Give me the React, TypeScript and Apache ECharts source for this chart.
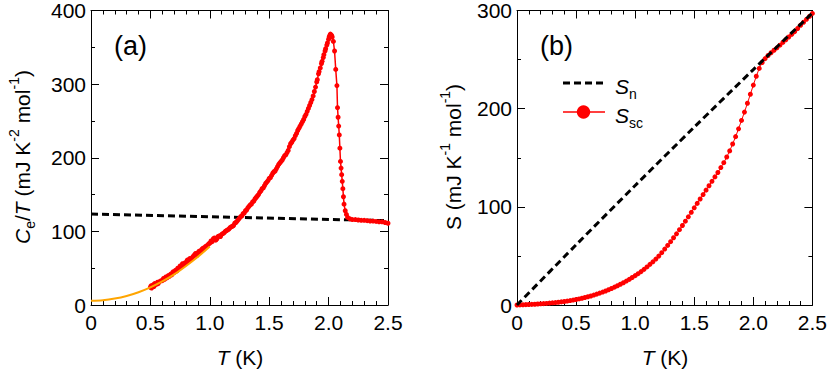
import React, { useEffect, useRef } from "react";
import * as echarts from "echarts";

// ---- Panel (a): Ce/T vs T ----
const T_A = [
  0.5, 0.505, 0.51, 0.52, 0.53, 0.535, 0.55, 0.56, 0.565, 0.58, 0.59, 0.6, 0.61, 0.62, 0.63, 0.64, 0.65, 0.66,
  0.67, 0.68, 0.69, 0.7, 0.71, 0.72, 0.73, 0.74, 0.75, 0.76, 0.77, 0.78, 0.79, 0.8, 0.81, 0.82, 0.83, 0.84,
  0.85, 0.86, 0.87, 0.88, 0.89, 0.9, 0.91, 0.92, 0.93, 0.94, 0.95, 0.96, 0.97, 0.98, 0.99, 1.0, 1.01, 1.02,
  1.03, 1.04, 1.05, 1.06, 1.07, 1.08, 1.09, 1.1, 1.11, 1.12, 1.13, 1.14, 1.15, 1.16, 1.17, 1.18, 1.19, 1.2,
  1.21, 1.22, 1.23, 1.24, 1.25, 1.26, 1.27, 1.28, 1.29, 1.3, 1.31, 1.32, 1.33, 1.34, 1.35, 1.36, 1.37, 1.38,
  1.39, 1.4, 1.41, 1.42, 1.43, 1.44, 1.45, 1.46, 1.47, 1.48, 1.49, 1.5, 1.51, 1.52, 1.53, 1.54, 1.55, 1.56,
  1.57, 1.58, 1.59, 1.6, 1.61, 1.62, 1.63, 1.64, 1.65, 1.66, 1.67, 1.68, 1.69, 1.7, 1.71, 1.72, 1.73, 1.74,
  1.75, 1.76, 1.77, 1.78, 1.79, 1.8, 1.81, 1.82, 1.83, 1.84, 1.85, 1.86, 1.87, 1.88, 1.89, 1.9, 1.905, 1.915,
  1.92, 1.93, 1.94, 1.945, 1.955, 1.96, 1.97, 1.975, 1.985, 1.99, 2.0, 2.005, 2.01, 2.015, 2.02, 2.025, 2.03,
  2.04, 2.05, 2.06, 2.07, 2.075, 2.08, 2.085, 2.09, 2.095, 2.1, 2.105, 2.11, 2.115, 2.12, 2.125, 2.13, 2.14,
  2.15, 2.16, 2.18, 2.2, 2.225, 2.25, 2.275, 2.3, 2.325, 2.35, 2.375, 2.4, 2.425, 2.45, 2.475, 2.5,
];
const CE_A = [
  24, 26, 23, 27, 25, 29, 28, 31, 29, 32, 33, 33, 36, 35, 38, 37, 40, 39,
  42, 41, 45, 44, 47, 46, 50, 49, 53, 52, 56, 55, 57, 58, 61, 59, 63, 62,
  64, 66, 68, 70, 67, 71, 73, 72, 75, 77, 76, 79, 80, 81, 83, 84, 87, 86,
  90, 91, 88, 90, 93, 94, 93, 96, 97, 98, 100, 101, 102, 103, 105, 106, 107, 108,
  111, 112, 114, 116, 118, 120, 121, 124, 125, 128, 129, 132, 134, 136, 137, 140, 141, 144,
  146, 148, 150, 153, 155, 158, 159, 162, 165, 167, 169, 172, 173, 176, 179, 181, 182, 185,
  188, 191, 193, 195, 197, 200, 203, 204, 207, 210, 215, 219, 221, 224, 226, 230, 233, 237,
  240, 243, 246, 249, 252, 256, 259, 263, 267, 271, 275, 279, 284, 290, 296, 303, 306, 314,
  317, 322, 328, 331, 336, 340, 345, 348, 353, 356, 361, 364, 366, 368, 367, 366, 364,
  358, 345, 320, 298, 268, 255, 243, 231, 213, 195, 186, 177, 168, 158, 147, 137, 128,
  123, 119, 117, 116, 116, 115.5, 115, 115, 114.5, 114, 114, 113.5, 113, 113, 112, 111,
];
const T_FIT = [0, 0.1, 0.2, 0.3, 0.4, 0.5, 0.6, 0.7, 0.8, 0.9, 1.0];
const CE_FIT = [5.8, 6.5, 8.7, 12.3, 17.4, 24, 32, 41.6, 53, 65.5, 79.5];
const T_NA = [0, 2.5];
const CE_N = [123.5, 114.5];

// ---- Panel (b): S vs T ----
const T_SN = [0, 0.5, 1.0, 1.5, 2.0, 2.5];
const S_N = [0, 61.3, 121.7, 181.2, 239.8, 297.5];
const T_SC = [
  0, 0.025, 0.05, 0.075, 0.1, 0.125, 0.15, 0.175, 0.2, 0.225, 0.25, 0.275, 0.3, 0.325, 0.35, 0.375,
  0.4, 0.425, 0.45, 0.475, 0.5, 0.525, 0.55, 0.575, 0.6, 0.625, 0.65, 0.675, 0.7, 0.725, 0.75, 0.775,
  0.8, 0.825, 0.85, 0.875, 0.9, 0.925, 0.95, 0.975, 1.0, 1.025, 1.05, 1.075, 1.1, 1.125, 1.15, 1.175,
  1.2, 1.225, 1.25, 1.275, 1.3, 1.325, 1.35, 1.375, 1.4, 1.425, 1.45, 1.475, 1.5, 1.525, 1.55, 1.575,
  1.6, 1.625, 1.65, 1.675, 1.7, 1.725, 1.75, 1.775, 1.8, 1.825, 1.85, 1.875, 1.9, 1.925, 1.95, 1.975,
  2.0, 2.025, 2.05, 2.075, 2.1, 2.125, 2.15, 2.175, 2.2, 2.225, 2.25, 2.275, 2.3, 2.325, 2.35, 2.375,
  2.4, 2.425, 2.45, 2.475, 2.5,
];
const S_SC = [
  0, 0.12, 0.25, 0.38, 0.5, 0.65, 0.8, 1.0, 1.2, 1.4, 1.6, 1.9, 2.2, 2.5, 2.8, 3.2,
  3.6, 4.0, 4.5, 5.0, 5.6, 6.2, 6.9, 7.6, 8.4, 9.2, 10.1, 11.1, 12.1, 13.2, 14.3, 15.5,
  16.8, 18.2, 19.6, 21.1, 22.7, 24.4, 26.1, 28.0, 29.9, 31.9, 34.0, 36.3, 38.8, 41.4, 44.0, 46.8,
  49.8, 53.3, 57.0, 60.7, 64.5, 68.5, 72.5, 76.7, 81.0, 85.4, 89.8, 94.4, 99.0, 103.5, 108.0, 112.5,
  117.0, 121.5, 126.0, 130.5, 135.0, 140.0, 145.0, 150.8, 157.0, 164.0, 171.5, 179.5, 188.0, 196.5, 205.5, 214.7,
  224.0, 233.0, 241.0, 247.0, 251.0, 254.2, 257.0, 259.5, 262.0, 264.7, 267.5, 270.2, 273.0, 275.7, 278.5, 281.7,
  285.0, 288.0, 291.0, 294.0, 297.0,
];

const X_TICKS = { min: 0, max: 2.5, interval: 0.5 };
const Y_A_TICKS = { min: 0, max: 400, interval: 100 };
const Y_B_TICKS = { min: 0, max: 300, interval: 100 };

const FONT = '"Liberation Sans", Arial, Helvetica, sans-serif';
const RED = "#ff0000";
const ORANGE = "#ffa500";
const TICK = "#000000";

const zip = (xs: number[], ys: number[]) => xs.map((x, i) => [x, ys[i]]);

const rich = {
  n: { fontSize: 21, fontFamily: FONT, fill: "#000", lineHeight: 30 },
  i: { fontSize: 21, fontFamily: FONT, fill: "#000", fontStyle: "italic", lineHeight: 30 },
  sub: { fontSize: 14, fontFamily: FONT, fill: "#000", verticalAlign: "bottom", lineHeight: 12 },
  sup: { fontSize: 14, fontFamily: FONT, fill: "#000", verticalAlign: "top", lineHeight: 14 },
};

function xAxis(gridIndex: number, top: boolean) {
  return {
    type: "value",
    gridIndex,
    position: top ? "top" : "bottom",
    ...X_TICKS,
    axisLine: { show: true, onZero: false, lineStyle: { color: "#000" } },
    splitLine: { show: false },
    axisTick: { show: true, inside: true, length: 8, lineStyle: { color: TICK } },
    minorTick: { show: true, splitNumber: 5, length: 4, lineStyle: { color: TICK } },
    axisLabel: {
      show: !top,
      color: "#000",
      fontSize: 21,
      fontFamily: FONT,
      margin: 7,
      formatter: (v: number) => (v === 0 ? "0" : v.toFixed(1)),
    },
  };
}

function yAxis(gridIndex: number, right: boolean, ticks: any) {
  return {
    type: "value",
    gridIndex,
    position: right ? "right" : "left",
    ...ticks,
    axisLine: { show: true, onZero: false, lineStyle: { color: "#000" } },
    splitLine: { show: false },
    axisTick: { show: true, inside: true, length: 8, lineStyle: { color: TICK } },
    minorTick: { show: true, splitNumber: 2, length: 4, lineStyle: { color: TICK } },
    axisLabel: { show: !right, color: "#000", fontSize: 21, fontFamily: FONT, margin: 5 },
  };
}

function title(text: string, x: number, y: number, rotation = 0) {
  return {
    type: "text",
    x,
    y,
    rotation,
    style: { text, rich, fill: "#000", align: "center", verticalAlign: "middle" },
  };
}

export default function App() {
  const ref = useRef<HTMLDivElement>(null);
  useEffect(() => {
    if (!ref.current) return;
    const chart = echarts.init(ref.current, null, { renderer: "svg" });
    const option: any = {
      animation: false,
      grid: [
        { left: 91, top: 8, width: 297, height: 297 },
        { left: 517, top: 8, width: 296, height: 297 },
      ],
      xAxis: [xAxis(0, false), xAxis(0, true), xAxis(1, false), xAxis(1, true)],
      yAxis: [yAxis(0, false, Y_A_TICKS), yAxis(0, true, Y_A_TICKS), yAxis(1, false, Y_B_TICKS), yAxis(1, true, Y_B_TICKS)],
      series: [
        {
          name: "normal a",
          type: "line",
          xAxisIndex: 0,
          yAxisIndex: 0,
          data: zip(T_NA, CE_N),
          showSymbol: false,
          lineStyle: { color: "#000", width: 3, type: [7, 4] },
          z: 2,
        },
        {
          name: "Ce/T line",
          type: "line",
          xAxisIndex: 0,
          yAxisIndex: 0,
          data: zip(T_A, CE_A),
          showSymbol: false,
          lineStyle: { color: RED, width: 1.5 },
          z: 3,
        },
        {
          name: "Ce/T",
          type: "scatter",
          xAxisIndex: 0,
          yAxisIndex: 0,
          data: zip(T_A, CE_A),
          symbol: "circle",
          symbolSize: 5,
          itemStyle: { color: RED, opacity: 1 },
          z: 3,
        },
        {
          name: "fit",
          type: "line",
          xAxisIndex: 0,
          yAxisIndex: 0,
          data: zip(T_FIT, CE_FIT),
          showSymbol: false,
          smooth: 0.3,
          lineStyle: { color: ORANGE, width: 2 },
          z: 4,
        },
        {
          name: "Ssc line",
          type: "line",
          xAxisIndex: 2,
          yAxisIndex: 2,
          data: zip(T_SC, S_SC),
          showSymbol: false,
          lineStyle: { color: RED, width: 1 },
          z: 3,
        },
        {
          name: "Ssc",
          type: "scatter",
          xAxisIndex: 2,
          yAxisIndex: 2,
          data: zip(T_SC, S_SC),
          symbol: "circle",
          symbolSize: 5,
          itemStyle: { color: RED, opacity: 1 },
          z: 3,
        },
        {
          name: "Sn",
          type: "line",
          xAxisIndex: 2,
          yAxisIndex: 2,
          data: zip(T_SN, S_N),
          showSymbol: false,
          smooth: 0.3,
          lineStyle: { color: "#000", width: 3, type: [7, 4] },
          z: 4,
        },
      ],
      graphic: [
        title("{i|C}{sub|e}{n|/}{i|T}{n| (mJ K}{sup|-2}{n| mol}{sup|-1}{n|)}", 22, 157, Math.PI / 2),
        title("{n|S (mJ K}{sup|-1}{n| mol}{sup|-1}{n|)}", 453, 157, Math.PI / 2),
        title("{i|T}{n| (K)}", 240, 357),
        title("{i|T}{n| (K)}", 665, 357),
        {
          type: "text",
          x: 114,
          y: 46,
          style: { text: "(a)", fontSize: 27, fontFamily: FONT, fill: "#000", align: "left", verticalAlign: "middle" },
        },
        {
          type: "text",
          x: 540,
          y: 46,
          style: { text: "(b)", fontSize: 27, fontFamily: FONT, fill: "#000", align: "left", verticalAlign: "middle" },
        },
        {
          type: "line",
          shape: { x1: 563, y1: 83, x2: 605, y2: 83 },
          style: { stroke: "#000", lineWidth: 3, lineDash: [7, 4] },
        },
        {
          type: "text",
          x: 615,
          y: 86,
          style: { text: "{i|S}{sub|n}", rich, fill: "#000", align: "left", verticalAlign: "middle" },
        },
        {
          type: "line",
          shape: { x1: 563, y1: 112, x2: 605, y2: 112 },
          style: { stroke: RED, lineWidth: 1.5 },
        },
        {
          type: "circle",
          shape: { cx: 583.5, cy: 112, r: 6.7 },
          style: { fill: RED },
        },
        {
          type: "text",
          x: 615,
          y: 115,
          style: { text: "{i|S}{sub|sc}", rich, fill: "#000", align: "left", verticalAlign: "middle" },
        },
      ],
    };
    chart.setOption(option);
    return () => chart.dispose();
  }, []);
  return <div ref={ref} style={{ position: "absolute", left: 0, top: 0, width: 830, height: 374 }} />;
}
